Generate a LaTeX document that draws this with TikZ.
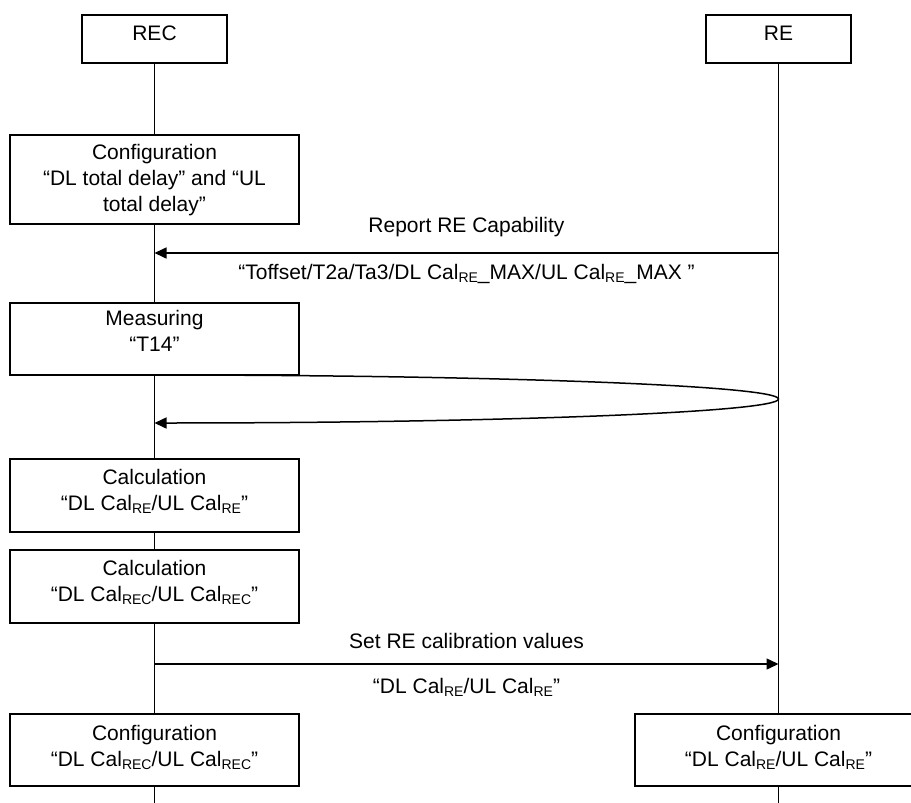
\documentclass[tikz,border=0pt]{standalone}
\usepackage{fontspec}
\setmainfont{Liberation Sans}
\usetikzlibrary{arrows.meta}
\newcommand{\lowsub}[1]{\raisebox{-3pt}{\fontsize{14}{14}\selectfont #1}}

\begin{document}
\begin{tikzpicture}[x=1pt,y=-1pt,>={Triangle[length=12pt,width=11pt]},
  every node/.style={font=\fontsize{21}{26}\selectfont},
  box/.style={draw,fill=white,line width=1.5pt,minimum width=289pt,minimum height=73pt,
    align=center,inner sep=0pt,text depth=12pt},
  head/.style={box,minimum width=145pt,minimum height=48pt},
  life/.style={line width=1.5pt},
  msg/.style={line width=1.5pt,->}]
  \useasboundingbox (0,0) rectangle (911,803);
  \clip (0,0) rectangle (911,803);
  % the two entities
  \node[head] (rec) at (154.5,39) {REC};
  \node[head] (re) at (778.5,39) {RE};
  % steps on the REC side
  \node[box,minimum height=89pt,text depth=3pt] (cfg) at (154.5,179.5)
    {Configuration\\“DL total delay” and “UL\\total delay”};
  \node[box,minimum height=72pt,text depth=16pt] (meas) at (154.5,339) {Measuring\\“T14”};
  \node[box] (calcre) at (154.5,495.5) {Calculation\\“DL Cal\lowsub{RE}/UL Cal\lowsub{RE}”};
  \node[box] (calcrec) at (154.5,586.5) {Calculation\\“DL Cal\lowsub{REC}/UL Cal\lowsub{REC}”};
  \node[box,minimum height=72pt,text depth=8pt] (cfgrec) at (154.5,750)
    {Configuration\\“DL Cal\lowsub{REC}/UL Cal\lowsub{REC}”};
  % last step on the RE side, runs off the right edge
  \node[box,minimum width=287pt,minimum height=72pt,text depth=8pt] (cfgre) at (778.5,750)
    {Configuration\\“DL Cal\lowsub{RE}/UL Cal\lowsub{RE}”};
  % lifelines
  \coordinate (recend) at (154.5,803);
  \coordinate (reend) at (778.5,803);
  \draw[life] (rec.south) -- (cfg.north) (cfg.south) -- (meas.north)
    (meas.south) -- (calcre.north) (calcre.south) -- (calcrec.north)
    (calcrec.south) -- (cfgrec.north) (cfgrec.south) -- (recend);
  \draw[life] (re.south) -- (cfgre.north) (cfgre.south) -- (reend);
  % capability report, RE to REC
  \coordinate (rep-re) at (778.5,253);
  \coordinate (rep-rec) at (154.5,253);
  \draw[msg] (rep-re) -- (rep-rec);
  \node[anchor=base] (replbl) at (466.5,232.5) {Report RE Capability};
  \node[anchor=base] (repval) at (466.5,279.5)
    {“Toffset/T2a/Ta3/DL Cal\lowsub{RE}\_MAX/UL Cal\lowsub{RE}\_MAX ”};
  % round trip for T14
  \coordinate (t14-out) at (154.5,375);
  \draw[msg] (t14-out) arc[start angle=-90,end angle=90,x radius=624,y radius=24];
  % calibration values, REC to RE
  \coordinate (set-rec) at (154.5,664);
  \coordinate (set-re) at (778.5,664);
  \draw[msg] (set-rec) -- (set-re);
  \node[anchor=base] (setlbl) at (466.5,648.5) {Set RE calibration values};
  \node[anchor=base] (setval) at (466.5,693.5) {“DL Cal\lowsub{RE}/UL Cal\lowsub{RE}”};
\end{tikzpicture}
\end{document}
